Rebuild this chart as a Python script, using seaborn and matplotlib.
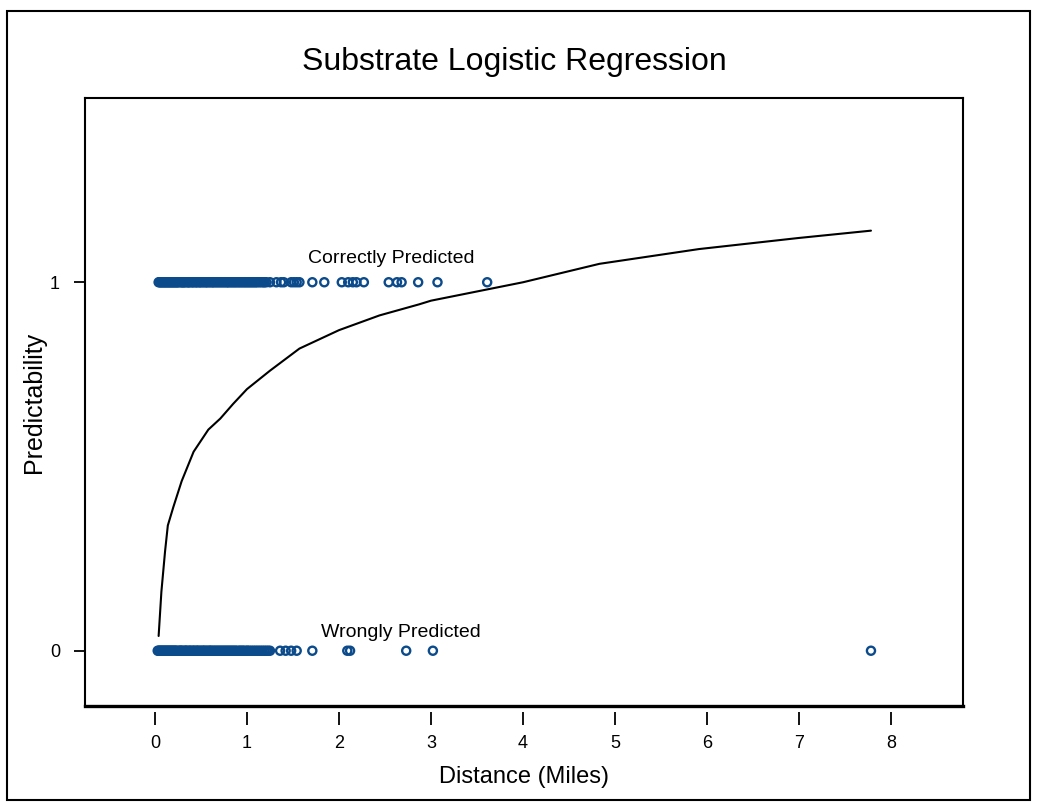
import matplotlib
matplotlib.use("Agg")
import matplotlib.pyplot as plt
import seaborn as sns
import pandas as pd
from matplotlib.patches import Rectangle
from matplotlib.lines import Line2D

# ---- data ----
correct_x = [0.04, 0.05, 0.06, 0.07, 0.08, 0.09, 0.10, 0.11, 0.12, 0.13, 0.14, 0.15,
             0.16, 0.17, 0.18, 0.19, 0.20, 0.21, 0.22, 0.23, 0.24, 0.25, 0.26, 0.28,
             0.29, 0.30, 0.31, 0.32, 0.33, 0.35, 0.36, 0.37, 0.38, 0.40, 0.41, 0.42,
             0.44, 0.45, 0.46, 0.48, 0.49, 0.50, 0.52, 0.53, 0.55, 0.56, 0.57, 0.59,
             0.60, 0.62, 0.63, 0.64, 0.66, 0.67, 0.69, 0.70, 0.72, 0.73, 0.75, 0.76,
             0.78, 0.79, 0.80, 0.82, 0.83, 0.85, 0.86, 0.88, 0.89, 0.91, 0.92, 0.94,
             0.95, 0.97, 0.98, 1.00, 1.01, 1.03, 1.04, 1.06, 1.07, 1.09, 1.10, 1.12,
             1.14, 1.16, 1.18, 1.19, 1.21, 1.25, 1.32, 1.37, 1.40, 1.48, 1.51, 1.54,
             1.57, 1.71, 1.84, 2.03, 2.10, 2.15, 2.19, 2.27, 2.54, 2.63, 2.68, 2.86,
             3.07, 3.61]
wrong_x = [0.03, 0.04, 0.05, 0.06, 0.07, 0.08, 0.09, 0.10, 0.11, 0.12, 0.13, 0.14,
           0.15, 0.16, 0.17, 0.18, 0.19, 0.20, 0.21, 0.22, 0.23, 0.24, 0.26, 0.27,
           0.28, 0.29, 0.30, 0.32, 0.33, 0.34, 0.35, 0.37, 0.38, 0.39, 0.41, 0.42,
           0.43, 0.45, 0.46, 0.47, 0.49, 0.50, 0.52, 0.53, 0.54, 0.56, 0.57, 0.59,
           0.60, 0.61, 0.63, 0.64, 0.66, 0.67, 0.69, 0.70, 0.72, 0.73, 0.75, 0.76,
           0.78, 0.79, 0.81, 0.82, 0.84, 0.85, 0.87, 0.88, 0.90, 0.92, 0.93, 0.95,
           0.96, 0.98, 1.00, 1.01, 1.03, 1.05, 1.07, 1.09, 1.11, 1.13, 1.15, 1.17,
           1.19, 1.21, 1.23, 1.25, 1.36, 1.42, 1.48, 1.54, 1.71, 2.09, 2.12, 2.73,
           3.02, 7.78]
curve_x = [0.04, 0.07, 0.11, 0.14, 0.20, 0.29, 0.42, 0.58, 0.71, 0.85, 1.00, 1.25,
           1.57, 2.00, 2.44, 2.87, 3.00, 3.60, 4.00, 4.83, 5.91, 6.99, 7.78]
curve_y = [0.04, 0.16, 0.27, 0.34, 0.39, 0.46, 0.54, 0.60, 0.63, 0.67, 0.71, 0.76,
           0.82, 0.87, 0.91, 0.94, 0.95, 0.98, 1.00, 1.05, 1.09, 1.12, 1.14]
xticks = [0, 1, 2, 3, 4, 5, 6, 7, 8]
yticks = [0, 1]

title = "Substrate Logistic Regression"
xlabel = "Distance (Miles)"
ylabel = "Predictability"

pts = pd.DataFrame({
    "x": correct_x + wrong_x,
    "y": [1] * len(correct_x) + [0] * len(wrong_x),
})
curve = pd.DataFrame({"x": curve_x, "y": curve_y})

sns.set_style("white")
plt.rcParams["font.family"] = ["Liberation Sans", "DejaVu Sans"]
for k in ["text.color", "axes.labelcolor", "xtick.color", "ytick.color"]:
    plt.rcParams[k] = "black"

W, H = 1037, 806
fig = plt.figure(figsize=(W / 100, H / 100), dpi=100)
ax = fig.add_axes([85 / W, 1 - 706 / H, (963 - 85) / W, (706 - 98) / H])

# spine setup first (set_position resets ticks)
for sp in ["left", "top", "right"]:
    ax.spines[sp].set_color("black")
    ax.spines[sp].set_linewidth(1.5)
ax.spines["bottom"].set_position(("outward", 4))
ax.spines["bottom"].set_visible(False)

blue = "#0b4a8b"
sns.scatterplot(data=pts, x="x", y="y", ax=ax, marker="o", s=34,
                facecolor="none", edgecolor=blue, linewidth=1.7, zorder=3)
sns.lineplot(data=curve, x="x", y="y", ax=ax, color="black", linewidth=1.5,
             zorder=2, sort=True)

ax.add_line(Line2D([0, 1], [0, 0], transform=ax.transAxes, color="black",
                   linewidth=2.4, clip_on=False, solid_capstyle="projecting"))

ax.set_xlim(-0.76, 8.78)
ax.set_ylim(-0.15, 1.50)
ax.set_xticks(xticks)
ax.set_yticks(yticks)
ax.set_xticklabels([str(t) for t in xticks])
ax.set_yticklabels([str(t) for t in yticks])

ax.tick_params(axis="x", direction="out", length=9, width=1.3, color="black",
               pad=8, bottom=True, labelsize=13)
ax.tick_params(axis="y", direction="out", length=8, width=1.3, color="black",
               pad=10, left=True, labelsize=13)

ax.set_xlabel(xlabel, fontsize=17, labelpad=10)
ax.set_ylabel(ylabel, fontsize=18, labelpad=3)
fig.text(514 / W, 1 - 62 / H, title, fontsize=23,
         ha="center", va="center")

ax.text(1.66, 1.065, "Correctly Predicted", fontsize=14, ha="left", va="center")
ax.text(1.80, 0.05, "Wrongly Predicted", fontsize=14, ha="left", va="center")

fig.patches.append(Rectangle((7 / W, 1 - 800 / H), (1030 - 7) / W, (800 - 11) / H,
                             transform=fig.transFigure, fill=False,
                             edgecolor="black", linewidth=1.5))

fig.savefig("out.png", dpi=100, facecolor="white")
